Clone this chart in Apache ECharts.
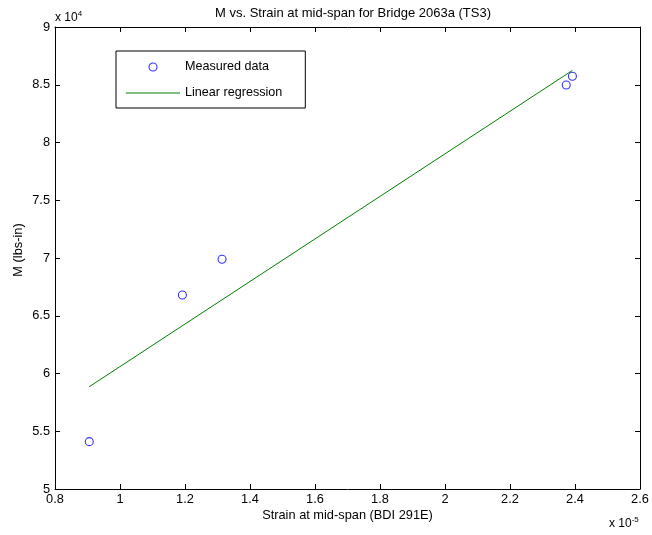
<!DOCTYPE html>
<html>
<head>
<meta charset="utf-8">
<script src="https://cdn.jsdelivr.net/npm/echarts@6/dist/echarts.min.js"></script>
<style>html,body{margin:0;padding:0;background:#fff}#c{width:652px;height:535px}</style>
</head>
<body>
<div id="c"></div>
<script>
// Strain at mid-span, in units of 1e-5
var strainE5 = [0.9055, 1.192, 1.314, 2.373, 2.392];
// Moment M (lbs-in), in units of 1e4
var momentE4 = [5.41, 6.68, 6.989, 8.498, 8.573];
// Linear regression line endpoints
var regStrainE5 = [0.905, 2.392];
var regMomentE4 = [5.885, 8.624];

var xMin = 0.8, xMax = 2.6, xStep = 0.2;
var yMin = 5, yMax = 9, yStep = 0.5;

var FONT = 'Liberation Sans, Arial, sans-serif';
var FS = 12.8;
var chart = echarts.init(document.getElementById('c'), null, {renderer: 'canvas'});

var scatterData = strainE5.map(function (x, i) { return [x, momentE4[i]]; });
var regData = regStrainE5.map(function (x, i) { return [x, regMomentE4[i]]; });

function fmt(v) { return String(Math.round(v * 10) / 10); }

var axisCommon = {
  axisLine: {show: true, onZero: false, lineStyle: {color: '#000', width: 1}},
  axisTick: {show: true, inside: true, length: 5, lineStyle: {color: '#000'}},
  splitLine: {show: false}
};

chart.setOption({
  animation: false,
  backgroundColor: '#fff',
  textStyle: {fontFamily: FONT},
  title: {
    text: 'M vs. Strain at mid-span for Bridge 2063a (TS3)',
    left: 353, top: 7, textAlign: 'center', padding: 0,
    textStyle: {fontFamily: FONT, fontSize: 13, fontWeight: 'normal', color: '#000'}
  },
  grid: {left: 55, right: 12, top: 27, bottom: 46, containLabel: false},
  legend: {
    orient: 'vertical',
    left: 116, top: 51,
    padding: [9, 23, 8, 10],
    itemGap: 12,
    itemWidth: 54, itemHeight: 8,
    borderColor: '#000', borderWidth: 1,
    backgroundColor: '#fff',
    textStyle: {fontFamily: FONT, fontSize: 12.6, color: '#000', lineHeight: 14},
    data: [
      {name: 'Measured data', icon: 'circle', itemStyle: {color: '#fff', borderColor: '#0000ff', borderWidth: 1.1}},
      {name: 'Linear regression', icon: 'path://M0,0L54,0L54,1L0,1Z'}
    ]
  },
  xAxis: [
    Object.assign({
      type: 'value', min: xMin, max: xMax, interval: xStep, position: 'bottom',
      name: 'Strain at mid-span (BDI 291E)', nameLocation: 'middle', nameGap: 20, nameMoveOverlap: false,
      nameTextStyle: {fontFamily: FONT, fontSize: FS, color: '#000'},
      axisLabel: {color: '#000', fontSize: FS, fontFamily: FONT, margin: 4, formatter: fmt, showMinLabel: true, showMaxLabel: true}
    }, axisCommon),
    Object.assign({
      type: 'value', min: xMin, max: xMax, interval: xStep, position: 'top',
      axisLabel: {show: false}
    }, axisCommon)
  ],
  yAxis: [
    Object.assign({
      type: 'value', min: yMin, max: yMax, interval: yStep, position: 'left',
      name: 'M (lbs-in)', nameLocation: 'middle', nameGap: 30, nameMoveOverlap: false,
      nameTextStyle: {fontFamily: FONT, fontSize: FS, color: '#000', padding: [0, 0, 0, 16]},
      axisLabel: {color: '#000', fontSize: FS, fontFamily: FONT, margin: 5, formatter: fmt, showMinLabel: true, showMaxLabel: true}
    }, axisCommon),
    Object.assign({
      type: 'value', min: yMin, max: yMax, interval: yStep, position: 'right',
      axisLabel: {show: false}
    }, axisCommon)
  ],
  graphic: [
    {
      type: 'text', left: 55, top: 10,
      style: {
        text: '{a|x 10}{s|4}',
        rich: {
          a: {fontFamily: FONT, fontSize: 12, fill: '#000', verticalAlign: 'bottom'},
          s: {fontFamily: FONT, fontSize: 8, fill: '#000', verticalAlign: 'top', padding: [0, 0, 6, 0]}
        }
      }
    },
    {
      type: 'text', left: 609, top: 516,
      style: {
        text: '{a|x 10}{s|-5}',
        rich: {
          a: {fontFamily: FONT, fontSize: 12, fill: '#000', verticalAlign: 'bottom'},
          s: {fontFamily: FONT, fontSize: 8, fill: '#000', verticalAlign: 'top', padding: [0, 0, 6, 0]}
        }
      }
    }
  ],
  series: [
    {
      name: 'Measured data', type: 'scatter', xAxisIndex: 0, yAxisIndex: 0,
      symbol: 'circle', symbolSize: 8,
      itemStyle: {color: 'rgba(255,255,255,0)', borderColor: '#0000ff', borderWidth: 1.1},
      data: scatterData
    },
    {
      name: 'Linear regression', type: 'line', xAxisIndex: 0, yAxisIndex: 0,
      symbol: 'none', lineStyle: {color: '#008000', width: 1},
      itemStyle: {color: '#008000'},
      data: regData
    }
  ]
});
</script>
</body>
</html>
